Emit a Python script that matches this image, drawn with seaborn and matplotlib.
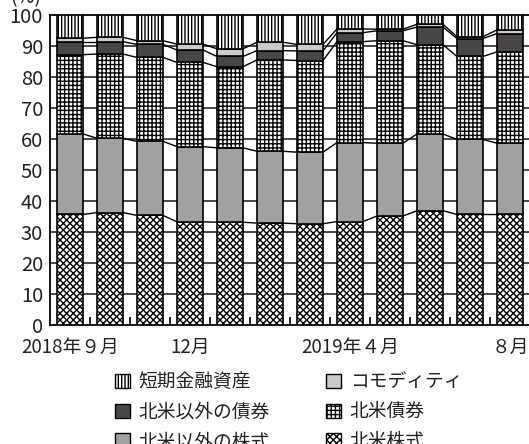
import numpy as np
import pandas as pd
import matplotlib
matplotlib.use('Agg')
import matplotlib.pyplot as plt
import seaborn as sns
from matplotlib.patches import Patch

sns.set_style('white')
plt.rcParams['font.family'] = ['Noto Sans CJK JP', 'DejaVu Sans']
plt.rcParams['hatch.linewidth'] = 1.0

# months Sep 2018 .. Aug 2019
months = ['2018-09', '2018-10', '2018-11', '2018-12', '2019-01', '2019-02',
          '2019-03', '2019-04', '2019-05', '2019-06', '2019-07', '2019-08']
tick_labels = ['2018年９月', '12月', '2019年４月', '８月']
tick_pos = [0, 3, 7, 11]

# cumulative tops (%)
top_na_equity = [35.6, 36.2, 35.3, 33.2, 33.1, 32.8, 32.6, 33.3, 35.1, 36.8, 35.6, 35.6]
top_other_equity = [61.6, 60.2, 59.2, 57.5, 57.1, 56.0, 55.7, 58.8, 58.6, 61.6, 59.8, 58.6]
top_na_bond = [87.2, 87.4, 86.3, 84.7, 83.3, 85.5, 85.3, 91.4, 91.7, 90.4, 86.6, 88.1]
top_other_bond = [91.4, 91.4, 90.5, 88.7, 86.6, 88.5, 88.4, 94.3, 94.9, 96.1, 92.4, 94.0]
top_commodity = [92.5, 92.8, 91.7, 90.6, 89.1, 91.2, 90.5, 95.5, 95.4, 97.0, 93.0, 95.2]
top_short = [100] * 12

df = pd.DataFrame({
    'month': months,
    '北米株式': top_na_equity,
    '北米以外の株式': top_other_equity,
    '北米債券': top_na_bond,
    '北米以外の債券': top_other_bond,
    'コモディティ': top_commodity,
    '短期金融資産': top_short,
})

# draw order bottom -> top: (name, face, hatch)
layers = [
    ('北米株式', 'white', 'xxxxx'),
    ('北米以外の株式', '#a0a1a0', None),
    ('北米債券', 'white', '++++'),
    ('北米以外の債券', '#4b4646', None),
    ('コモディティ', '#c9caca', None),
    ('短期金融資産', 'white', '|||||'),
]

fig = plt.figure(figsize=(5.29, 4.44), dpi=100)
ax = fig.add_axes([50 / 529, (444 - 324.7) / 444, 480 / 529, (324.7 - 15) / 444])

x = np.arange(len(months))
w = 0.65
prev = np.zeros(len(months))
for name, face, hatch in layers:
    tops = df[name].values
    ax.bar(x, tops - prev, bottom=prev, width=w, color=face, edgecolor='black',
           linewidth=1.2, hatch=hatch, zorder=3)
    # connector lines between neighbouring bars
    if name != '短期金融資産':
        for i in range(len(x) - 1):
            ax.plot([x[i] + w / 2, x[i + 1] - w / 2], [tops[i], tops[i + 1]],
                    color='black', lw=1.0, zorder=2)
    prev = tops

ax.set_xlim(-0.5, 11.5)
ax.set_ylim(0, 100)
ax.set_yticks(range(0, 101, 10))
ax.tick_params(axis='y', length=0, labelsize=14.5, labelcolor='#222222', pad=5)
for v in range(10, 100, 10):
    ax.axhline(v, color='#3a3a3a', lw=1.3, zorder=1)

ax.set_xticks(tick_pos)
ax.set_xticklabels(tick_labels)
ax.set_xticks(np.arange(0.5, 11, 1), minor=True)
ax.tick_params(axis='x', which='major', length=0, labelsize=13.5, labelcolor='#222222', pad=9)
ax.tick_params(axis='x', which='minor', direction='in', length=6, width=1.2, color='black')
ax.tick_params(axis='x', which='minor', bottom=True)

for s in ax.spines.values():
    s.set_color('black')
    s.set_linewidth(1.3)
    s.set_visible(True)

fig.text(10 / 529, 1 - 3 / 444, '(%)', fontsize=14, color='#222222', va='baseline')

# legend
handles = []
names = []
for name, face, hatch in [layers[5], layers[3], layers[1], layers[4], layers[2], layers[0]]:
    handles.append(Patch(facecolor=face, edgecolor='black', hatch=hatch, linewidth=1.0))
    names.append(name)
fig.legend(handles, names, ncol=2, loc='upper left', bbox_to_anchor=(106 / 529, 1 - 362 / 444),
           frameon=False, fontsize=13.5, handlelength=0.8, handleheight=0.8,
           handletextpad=0.45, columnspacing=3.0, labelspacing=0.47, borderpad=0,
           labelcolor='#222222')

fig.savefig('out.png', dpi=100)
